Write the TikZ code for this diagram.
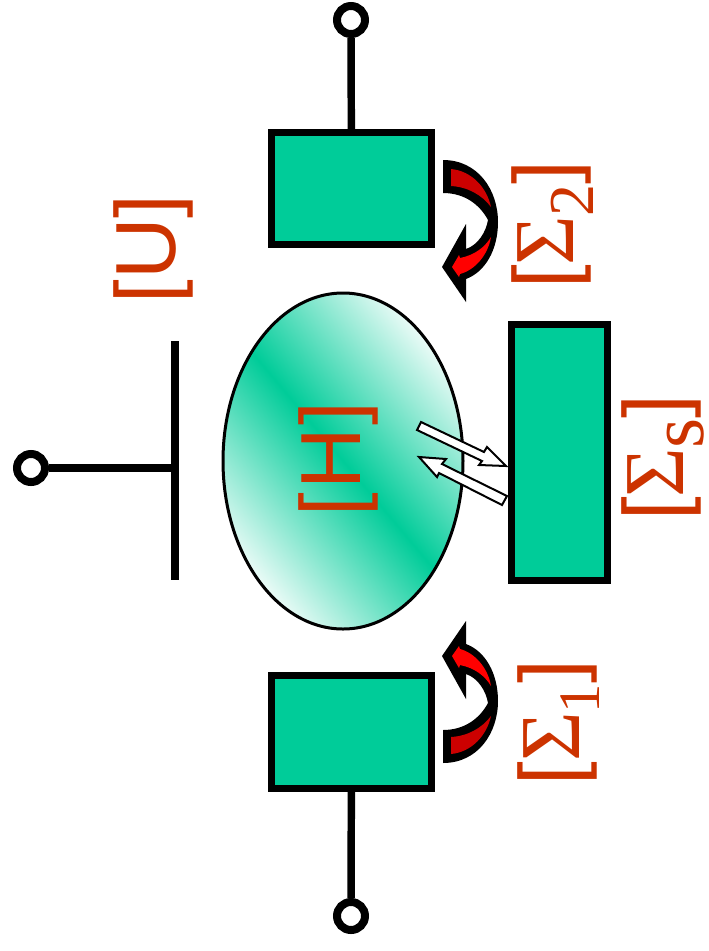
\documentclass[tikz,border=0pt]{standalone}
\usepackage{fontspec}
\setmainfont{Liberation Sans}
\newfontfamily\sigmafont{Liberation Serif}
\usepackage{tikz}
\usetikzlibrary{shapes.geometric}
\definecolor{contactgreen}{HTML}{00CC99}
\definecolor{labelred}{HTML}{CC3300}
\definecolor{darkflow}{HTML}{CC0000}
\definecolor{brightflow}{HTML}{FF0000}
\newcommand{\turnarrow}{%
  \fill (443,160) .. controls (478,160) and (498,190) .. (498,222)
    .. controls (498,250) and (485,272) .. (466,279) -- (466,302) -- (442,267) -- (466,224)
    -- (466,249) .. controls (478,245) and (486,232) .. (488,220)
    .. controls (480,205) and (465,193) .. (443,193) -- cycle;
  \fill[darkflow] (451,169) .. controls (472,171) and (487,188) .. (491,207)
    .. controls (482,195) and (468,187) .. (451,186) -- cycle;
  \fill[brightflow] (452,267) -- (459,277) -- (460,274) .. controls (475,270) and (488,255) .. (491,237)
    .. controls (485,247) and (475,255) .. (460,258) -- (459,255) -- cycle;
}
% size of the index, index
\newcommand{\sigmalab}[2]{[{\sigmafont\char"03A3}\kern-1pt\raisebox{-15pt}[0pt][0pt]{\fontsize{#1}{#1}\selectfont\sigmafont #2}]}

\begin{document}
\begin{tikzpicture}[
  x=0.75pt,y=-0.75pt,
  contact/.style={rectangle,draw,fill=contactgreen,line width=5.25pt,inner sep=0pt},
  terminal/.style={circle,draw,fill=white,line width=6pt,minimum size=21pt,inner sep=0pt},
  wire/.style={line width=5.6pt},
  lab/.style={font=\fontsize{64}{64}\selectfont,text=labelred,rotate=90,inner sep=0pt},
  smallarrow/.style={draw,fill=white,line width=1.5pt,line join=miter}
]
\useasboundingbox (0,0) rectangle (708,951);

% ---------------- channel ----------------
\node[ellipse,draw,line width=2.25pt,minimum width=180pt,minimum height=252pt,inner sep=0pt,
  top color=contactgreen!8,bottom color=contactgreen!8,middle color=contactgreen,shading angle=-50] (channel) at (343,461) {};
\node[lab] (hlabel) at (338.5,459) {[\kern2pt H\kern2pt]};

% ---------------- contacts ----------------
\node[contact,minimum width=120pt,minimum height=84pt] (drain) at (351.5,188.5) {};
\node[contact,minimum width=120pt,minimum height=84.75pt] (source) at (351.5,732) {};
\node[contact,minimum width=72pt,minimum height=192pt] (scatter) at (559,452) {};

\node[terminal] (drainpin) at (351,20) {};
\node[terminal] (sourcepin) at (351,916) {};
\node[terminal] (gatepin) at (31,468) {};

\draw[wire] (drainpin)--(drain);
\draw[wire] (sourcepin)--(source);

% ---------------- gate ----------------
\coordinate (gatetop) at (175,341);
\coordinate (gatebot) at (175,580);
\coordinate (gatemid) at (175,468);
\draw[wire] (gatetop)--(gatebot);
\draw[wire] (gatepin)--(gatemid);

% ---------------- flow arrows ----------------
\turnarrow
\begin{scope}[shift={(0,923)},yscale=-1]
  \turnarrow
\end{scope}

\draw[smallarrow] (421,422)--(484,452)--(487,447)--(506,466)--(479,465)--(482,461)--(417,430)--cycle;
\draw[smallarrow] (419,457)--(446,459)--(442,464)--(507,496)--(502,505)--(439,473)--(437,477)--cycle;

% ---------------- labels ----------------
\node[lab] (ulabel) at (153.5,249) {[U]};
\node[lab] (sigmadrain) at (551,225) {\sigmalab{48}{2}};
\node[lab] (sigmasource) at (557,722.5) {\sigmalab{44}{1}};
\node[lab] (sigmascatter) at (661,458) {\sigmalab{58}{s}};

\end{tikzpicture}
\end{document}
